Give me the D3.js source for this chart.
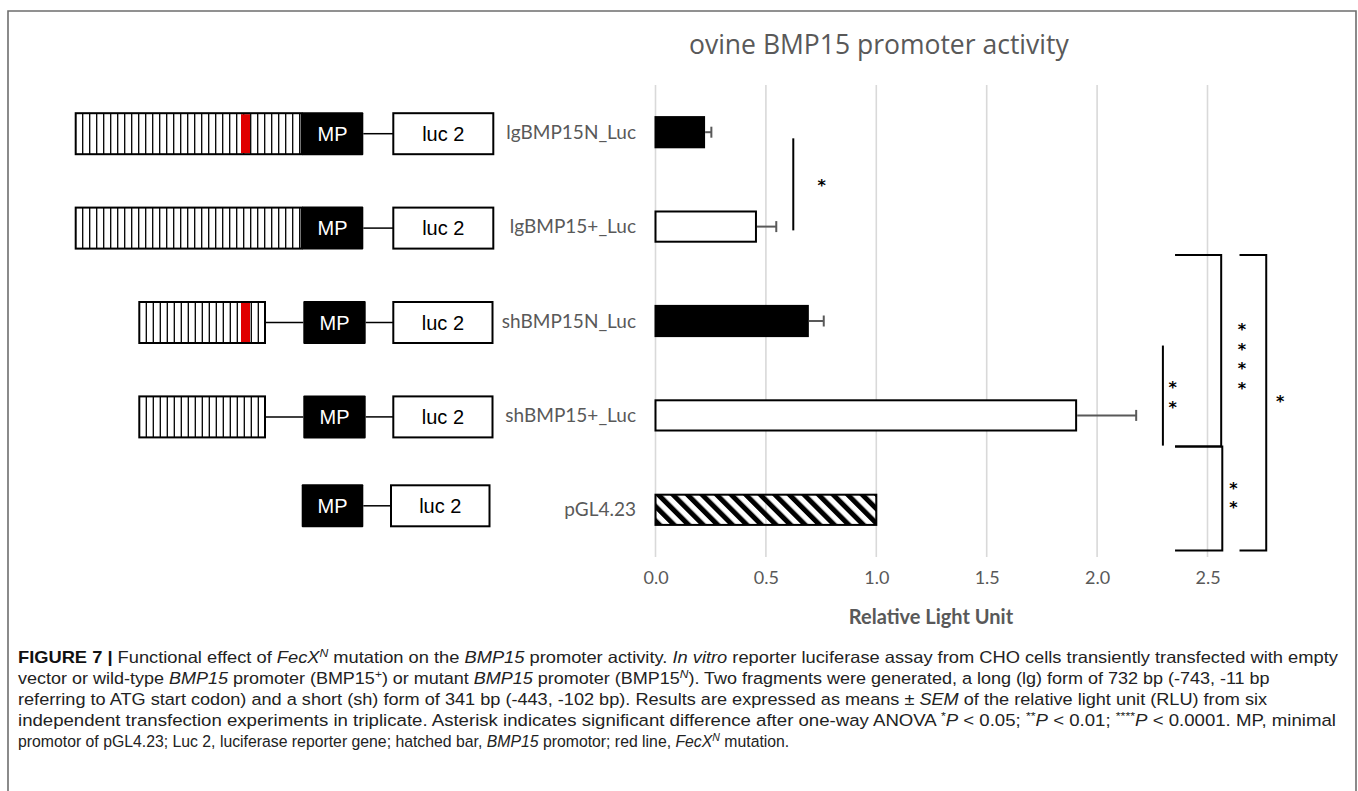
<!DOCTYPE html>
<html>
<head>
<meta charset="utf-8">
<script src="https://cdn.jsdelivr.net/npm/d3@7"></script>
<style>
html,body{margin:0;padding:0;background:#fff;}
svg{display:block;}
</style>
</head>
<body>
<svg id="chart" width="1358" height="791"></svg>
<script>
// ---------- data ----------
const title = "ovine BMP15 promoter activity";
const categories = ["lgBMP15N_Luc", "lgBMP15+_Luc", "shBMP15N_Luc", "shBMP15+_Luc", "pGL4.23"];
const values = [0.22, 0.455, 0.69, 1.905, 1.0];
const errors = [0.033, 0.092, 0.072, 0.272, 0];
const barKinds = ["mutant", "wild", "mutant", "wild", "empty"];
const promoterForms = ["long", "long", "short", "short", "none"];
const hasMutation = [true, false, true, false, false];
const tickValues = [0, 0.5, 1.0, 1.5, 2.0, 2.5];
const tickLabels = ["0.0", "0.5", "1.0", "1.5", "2.0", "2.5"];
const xTitle = "Relative Light Unit";
const sigLabels = ["*", "**", "****", "**", "*"];

// ---------- setup ----------
const svg = d3.select("#chart");
const defs = svg.append("defs");

defs.append("pattern").attr("id", "diag").attr("patternUnits", "userSpaceOnUse")
  .attr("width", 10.3).attr("height", 10.3).attr("patternTransform", "rotate(-45)")
  .append("rect").attr("x", 0).attr("y", 0).attr("width", 5).attr("height", 10.3).attr("fill", "#000");

// figure frame
svg.append("path").attr("d", "M8,800 L8,11 L1356,11 L1356,800")
  .attr("fill", "none").attr("stroke", "#6e6e6e").attr("stroke-width", 1.6);

const x = d3.scaleLinear().domain([0, 2.5]).range([655.5, 1207.5]);
const y = d3.scaleBand().domain(categories).range([85, 557]).paddingInner(0.68).paddingOuter(0.34);
const bw = y.bandwidth();
const cy = c => y(c) + bw / 2;
// category-index scale for annotation placement
const yi = d3.scaleLinear().domain([0, 4]).range([cy(categories[0]), cy(categories[4])]);

// title
svg.append("text").attr("x", 689).attr("y", 54).attr("text-anchor", "start")
  .attr("font-family", "'Open Sans', Lato, sans-serif").attr("font-size", 26.5).attr("fill", "#595959")
  .text(title);

// gridlines
svg.append("g").selectAll("line").data(tickValues).join("line")
  .attr("x1", d => x(d)).attr("x2", d => x(d)).attr("y1", 85).attr("y2", 557)
  .attr("stroke", "#d9d9d9").attr("stroke-width", 1.6);

// x axis (labels only)
const ax = svg.append("g").attr("transform", "translate(0,584)")
  .call(d3.axisBottom(x).tickValues(tickValues).tickFormat((d, i) => tickLabels[i]).tickSize(0).tickPadding(0));
ax.select(".domain").remove();
ax.selectAll("text").attr("font-family", "Lato, sans-serif").attr("font-size", 18).attr("fill", "#595959").attr("dy", 0);

svg.append("text").attr("x", 931).attr("y", 624).attr("text-anchor", "middle")
  .attr("font-family", "Lato, sans-serif").attr("font-weight", 700).attr("font-size", 20).attr("fill", "#595959")
  .text(xTitle);

// category labels
svg.append("g").selectAll("text").data(categories).join("text")
  .attr("x", 636).attr("y", d => cy(d)).attr("dy", "0.35em").attr("text-anchor", "end")
  .attr("font-family", "Lato, sans-serif").attr("font-size", 19).attr("fill", "#595959")
  .text(d => d);

// bars
const fillOf = k => k === "mutant" ? "#000" : (k === "wild" ? "#fff" : "url(#diag)");
svg.append("g").selectAll("rect").data(categories).join("rect")
  .attr("x", x(0)).attr("y", d => y(d)).attr("width", (d, i) => x(values[i]) - x(0)).attr("height", bw)
  .attr("fill", (d, i) => fillOf(barKinds[i])).attr("stroke", "#000").attr("stroke-width", 2);

// error bars
const eg = svg.append("g").attr("stroke", "#595959").attr("stroke-width", 2);
categories.forEach((c, i) => {
  if (!errors[i]) return;
  const x1 = x(values[i]), x2 = x(values[i] + errors[i]);
  eg.append("line").attr("x1", x1 + 1).attr("x2", x2).attr("y1", cy(c)).attr("y2", cy(c));
  eg.append("line").attr("x1", x2).attr("x2", x2).attr("y1", cy(c) - 5.5).attr("y2", cy(c) + 5.5);
});

// significance annotations
const sg = svg.append("g").attr("stroke", "#000").attr("stroke-width", 2).attr("fill", "none");
const pathStr = pts => "M" + pts.map(p => x(p[0]) + "," + yi(p[1])).join("L");
sg.append("path").attr("d", pathStr([[0.624, 0.065], [0.624, 1.04]]));
sg.append("path").attr("d", pathStr([[2.298, 2.26], [2.298, 3.32]]));
sg.append("path").attr("d", pathStr([[2.353, 1.30], [2.562, 1.30], [2.562, 3.33], [2.353, 3.33]]));
sg.append("path").attr("d", pathStr([[2.353, 3.33], [2.567, 3.33], [2.567, 4.43], [2.353, 4.43]]));
sg.append("path").attr("d", pathStr([[2.645, 1.30], [2.766, 1.30], [2.766, 4.43], [2.645, 4.43]]));

const starPos = [[0.753, 0.517], [2.342, 2.77], [2.656, 2.36], [2.617, 3.83], [2.829, 2.81]];
const starG = svg.append("g");
sigLabels.forEach((s, k) => {
  const n = s.length, gap = 19.5;
  const cx = x(starPos[k][0]), cyy = yi(starPos[k][1]);
  for (let j = 0; j < n; j++) {
    starG.append("text").attr("text-anchor", "middle")
      .attr("x", cx).attr("y", cyy + (j - (n - 1) / 2) * gap + 9.5)
      .attr("font-family", "'DejaVu Sans', sans-serif").attr("font-weight", 700)
      .attr("font-size", 16).attr("fill", "#000").text("*");
  }
});

// constructs (schematic)
const cg = svg.append("g");
const layouts = {
  long:  {hx0: 75.7, hx1: 301.7, mp0: 301.7, mp1: 363.3, luc0: 393.3, luc1: 493.3},
  short: {hx0: 139.3, hx1: 265, mp0: 303.3, mp1: 365.7, luc0: 393.3, luc1: 492.5},
  none:  {hx0: null, hx1: null, mp0: 301.7, mp1: 363.3, luc0: 391, luc1: 489.5}
};
categories.forEach((c, i) => {
  const L = layouts[promoterForms[i]];
  const ym = cy(c) + (i === 4 ? -4 : 1.5), h = 41;
  const g = cg.append("g");
  if (L.hx0 !== null) {
    g.append("rect").attr("x", L.hx0).attr("y", ym - h / 2).attr("width", L.hx1 - L.hx0).attr("height", h)
      .attr("fill", "#fff");
    d3.range(L.hx0 + 7, L.hx1 - 1, 7).forEach(xx => {
      g.append("line").attr("x1", xx).attr("x2", xx).attr("y1", ym - h / 2).attr("y2", ym + h / 2)
        .attr("stroke", "#000").attr("stroke-width", 1.3);
    });
    if (hasMutation[i]) {
      g.append("rect").attr("x", 241).attr("y", ym - h / 2 + 1).attr("width", 9).attr("height", h - 2).attr("fill", "#e00000");
    }
    g.append("rect").attr("x", L.hx0).attr("y", ym - h / 2).attr("width", L.hx1 - L.hx0).attr("height", h)
      .attr("fill", "none").attr("stroke", "#000").attr("stroke-width", 2);
    if (L.hx1 < L.mp0) {
      g.append("line").attr("x1", L.hx1).attr("x2", L.mp0).attr("y1", ym).attr("y2", ym).attr("stroke", "#000").attr("stroke-width", 1.5);
    }
  }
  g.append("rect").attr("x", L.mp0).attr("y", ym - h / 2 - 1).attr("width", L.mp1 - L.mp0).attr("height", h + 2)
    .attr("fill", "#000").attr("rx", 1);
  g.append("text").attr("x", (L.mp0 + L.mp1) / 2).attr("y", ym).attr("dy", "0.36em").attr("text-anchor", "middle")
    .attr("font-family", "'Liberation Sans', Arial, sans-serif").attr("font-size", 20).attr("fill", "#fff").text("MP");
  g.append("line").attr("x1", L.mp1).attr("x2", L.luc0).attr("y1", ym).attr("y2", ym).attr("stroke", "#000").attr("stroke-width", 1.5);
  g.append("rect").attr("x", L.luc0).attr("y", ym - h / 2).attr("width", L.luc1 - L.luc0).attr("height", h)
    .attr("fill", "#fff").attr("stroke", "#000").attr("stroke-width", 2);
  g.append("text").attr("x", (L.luc0 + L.luc1) / 2).attr("y", ym).attr("dy", "0.36em").attr("text-anchor", "middle")
    .attr("font-family", "'Liberation Sans', Arial, sans-serif").attr("font-size", 20).attr("fill", "#000").text("luc 2");
});

// caption
const caption = [
  {w: 1321, segs: [["FIGURE 7 | ", "b"], ["Functional effect of ", ""], ["FecX", "i"], ["N", "supi"], [" mutation on the ", ""], ["BMP15", "i"], [" promoter activity. ", ""], ["In vitro", "i"], [" reporter luciferase assay from CHO cells transiently transfected with empty", ""]]},
  {w: 1253, segs: [["vector or wild-type ", ""], ["BMP15", "i"], [" promoter (BMP15", ""], ["+", "sup"], [") or mutant ", ""], ["BMP15", "i"], [" promoter (BMP15", ""], ["N", "supi"], ["). Two fragments were generated, a long (lg) form of 732 bp (-743, -11 bp", ""]]},
  {w: 1250, segs: [["referring to ATG start codon) and a short (sh) form of 341 bp (-443, -102 bp). Results are expressed as means \u00b1 ", ""], ["SEM", "i"], [" of the relative light unit (RLU) from six", ""]]},
  {w: 1319, segs: [["independent transfection experiments in triplicate. Asterisk indicates significant difference after one-way ANOVA ", ""], ["*", "sup"], ["P", "i"], [" < 0.05; ", ""], ["**", "sup"], ["P", "i"], [" < 0.01; ", ""], ["****", "sup"], ["P", "i"], [" < 0.0001. MP, minimal", ""]]},
  {w: 772, segs: [["promotor of pGL4.23; Luc 2, luciferase reporter gene; hatched bar, ", ""], ["BMP15", "i"], [" promotor; red line, ", ""], ["FecX", "i"], ["N", "supi"], [" mutation.", ""]]}
];
const capG = svg.append("g").attr("font-family", "'Liberation Sans', Arial, sans-serif")
  .attr("font-size", 16.5).attr("fill", "#222");
caption.forEach((line, li) => {
  const t = capG.append("text").attr("x", 0).attr("y", 0);
  line.segs.forEach(([s, st]) => {
    const ts = t.append("tspan").text(s);
    if (st === "b") ts.attr("font-weight", 700).attr("fill", "#111");
    if (st === "i" || st === "supi") ts.attr("font-style", "italic");
    if (st === "sup" || st === "supi") ts.attr("baseline-shift", "super").attr("font-size", 11);
  });
  const w0 = t.node().getComputedTextLength();
  const sx = line.w / w0;
  t.attr("transform", `translate(18,${663 + li * 21}) scale(${sx},1)`);
});
</script>
</body>
</html>
